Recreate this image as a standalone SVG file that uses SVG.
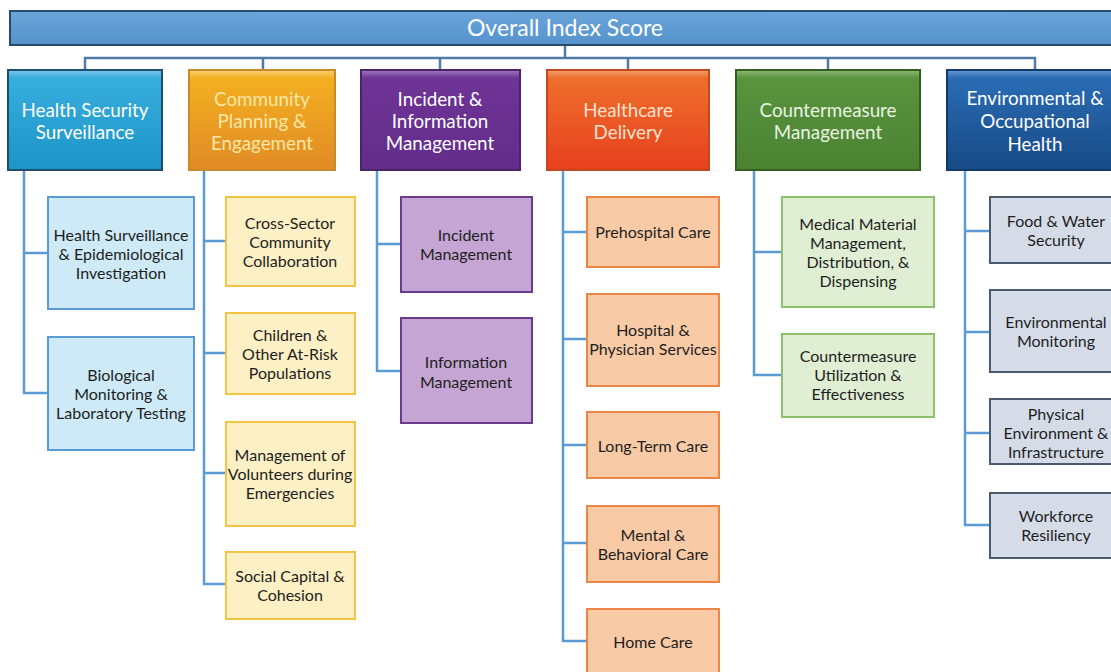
<svg xmlns="http://www.w3.org/2000/svg" width="1111" height="672" viewBox="0 0 1111 672">
<defs>
<linearGradient id="gBar" x1="0" y1="0" x2="0" y2="1"><stop offset="0" stop-color="#6aa6da"/><stop offset="1" stop-color="#5592cc"/></linearGradient>
<linearGradient id="g1" x1="0" y1="0" x2="0" y2="1"><stop offset="0" stop-color="#7cc6ea"/><stop offset="0.08" stop-color="#38aede"/><stop offset="1" stop-color="#1b94c6"/></linearGradient>
<linearGradient id="g2" x1="0" y1="0" x2="0" y2="1"><stop offset="0" stop-color="#f8d27a"/><stop offset="0.08" stop-color="#f3b020"/><stop offset="1" stop-color="#e08a26"/></linearGradient>
<linearGradient id="g3" x1="0" y1="0" x2="0" y2="1"><stop offset="0" stop-color="#a07cc0"/><stop offset="0.08" stop-color="#6e3496"/><stop offset="1" stop-color="#632c8a"/></linearGradient>
<linearGradient id="g4" x1="0" y1="0" x2="0" y2="1"><stop offset="0" stop-color="#f5a070"/><stop offset="0.08" stop-color="#ee6e2c"/><stop offset="1" stop-color="#e8401f"/></linearGradient>
<linearGradient id="g5" x1="0" y1="0" x2="0" y2="1"><stop offset="0" stop-color="#90b878"/><stop offset="0.08" stop-color="#5a943e"/><stop offset="1" stop-color="#4a8232"/></linearGradient>
<linearGradient id="g6" x1="0" y1="0" x2="0" y2="1"><stop offset="0" stop-color="#6a9ad0"/><stop offset="0.08" stop-color="#2a6cb4"/><stop offset="1" stop-color="#174a86"/></linearGradient>
</defs>
<style>
text{font-family:Lato,"Liberation Sans",sans-serif;text-anchor:middle;dominant-baseline:central}
.top{fill:#ffffff;font-size:23px}
.h{font-size:18.8px;fill:#ffffff}
.s{font-size:16px;fill:#1e1e1e}
.c1{fill:none;stroke:#4f7aa6;stroke-width:2.5}
.c2{fill:none;stroke:#5b9bd5;stroke-width:2.5}
.hb{stroke-width:2}
.s1{fill:#cdeaf6;stroke:#5b9bd5;stroke-width:2}
.s2{fill:#fdf0c4;stroke:#f5c443;stroke-width:2}
.s3{fill:#c5a5d3;stroke:#6b3a8c;stroke-width:2}
.s4{fill:#f8caa6;stroke:#ec8548;stroke-width:2}
.s5{fill:#e0eed4;stroke:#8cc06a;stroke-width:2}
.s6{fill:#d5dce8;stroke:#4a5a70;stroke-width:2}
</style>
<g id="connectors">
<path class="c1" d="M565 45V58M85 70V58H1035V70M263 58V70M440 58V70M628 58V70M828 58V70"/>
<path class="c2" d="M24 170V393H48M24 253H48"/>
<path class="c2" d="M204 170V584H226M204 241H226M204 353H226M204 473H226"/>
<path class="c2" d="M377 170V371H401M377 244H401"/>
<path class="c2" d="M563 170V641H587M563 232H587M563 339H587M563 445H587M563 543H587"/>
<path class="c2" d="M754 170V375H782M754 252H782"/>
<path class="c2" d="M965 170V525H990M965 231H990M965 332H990M965 433H990"/>
</g>
<g id="overall">
<rect x="10" y="11" width="1110" height="34" fill="url(#gBar)" stroke="#2b4a68" stroke-width="2"/>
<text class="top" x="565" y="27">Overall Index Score</text>
</g>
<g id="hss">
<rect class="hb" x="8" y="70" width="154" height="100" fill="url(#g1)" stroke="#1d4f6e"/>
<text class="h" x="85" y="109">Health Security</text>
<text class="h" x="85" y="131">Surveillance</text>
</g>
<g id="cpe">
<rect class="hb" x="189" y="70" width="146" height="100" fill="url(#g2)" stroke="#c98a2a"/>
<text class="h" x="262" y="98" style="fill:#fde7a6">Community</text>
<text class="h" x="262" y="120" style="fill:#fde7a6">Planning &amp;</text>
<text class="h" x="262" y="142" style="fill:#fde7a6">Engagement</text>
</g>
<g id="iim">
<rect class="hb" x="361" y="70" width="159" height="100" fill="url(#g3)" stroke="#4a2466"/>
<text class="h" x="440" y="98">Incident &amp;</text>
<text class="h" x="440" y="120">Information</text>
<text class="h" x="440" y="142">Management</text>
</g>
<g id="hd">
<rect class="hb" x="547" y="70" width="162" height="100" fill="url(#g4)" stroke="#c04a20"/>
<text class="h" x="628" y="109" style="fill:#fde2cc">Healthcare</text>
<text class="h" x="628" y="131" style="fill:#fde2cc">Delivery</text>
</g>
<g id="cm">
<rect class="hb" x="736" y="70" width="184" height="100" fill="url(#g5)" stroke="#335e22"/>
<text class="h" x="828" y="109" style="fill:#eaf3e2">Countermeasure</text>
<text class="h" x="828" y="131" style="fill:#eaf3e2">Management</text>
</g>
<g id="eoh">
<rect class="hb" x="947" y="70" width="176" height="100" fill="url(#g6)" stroke="#123a66"/>
<text class="h" x="1035" y="97">Environmental &amp;</text>
<text class="h" x="1035" y="120">Occupational</text>
<text class="h" x="1035" y="143">Health</text>
</g>
<g id="hss1"><rect class="s1" x="48" y="197" width="146" height="112"/>
<text class="s" x="121" y="234">Health Surveillance</text><text class="s" x="121" y="253">&amp; Epidemiological</text><text class="s" x="121" y="272">Investigation</text></g>
<g id="hss2"><rect class="s1" x="48" y="337" width="146" height="113"/>
<text class="s" x="121" y="374">Biological</text><text class="s" x="121" y="393">Monitoring &amp;</text><text class="s" x="121" y="412">Laboratory Testing</text></g>
<g id="cpe1"><rect class="s2" x="226" y="197" width="129" height="89"/>
<text class="s" x="290" y="222">Cross-Sector</text><text class="s" x="290" y="241">Community</text><text class="s" x="290" y="260">Collaboration</text></g>
<g id="cpe2"><rect class="s2" x="226" y="313" width="129" height="81"/>
<text class="s" x="290" y="334">Children &amp;</text><text class="s" x="290" y="353">Other At-Risk</text><text class="s" x="290" y="372">Populations</text></g>
<g id="cpe3"><rect class="s2" x="226" y="422" width="129" height="104"/>
<text class="s" x="290" y="454">Management of</text><text class="s" x="290" y="473">Volunteers during</text><text class="s" x="290" y="492">Emergencies</text></g>
<g id="cpe4"><rect class="s2" x="226" y="552" width="129" height="67"/>
<text class="s" x="290" y="575">Social Capital &amp;</text><text class="s" x="290" y="594">Cohesion</text></g>
<g id="iim1"><rect class="s3" x="401" y="197" width="131" height="95"/>
<text class="s" x="466" y="234">Incident</text><text class="s" x="466" y="253">Management</text></g>
<g id="iim2"><rect class="s3" x="401" y="318" width="131" height="105"/>
<text class="s" x="466" y="361">Information</text><text class="s" x="466" y="381">Management</text></g>
<g id="hd1"><rect class="s4" x="587" y="197" width="132" height="70"/>
<text class="s" x="653" y="231">Prehospital Care</text></g>
<g id="hd2"><rect class="s4" x="587" y="294" width="132" height="92"/>
<text class="s" x="653" y="329">Hospital &amp;</text><text class="s" x="653" y="348">Physician Services</text></g>
<g id="hd3"><rect class="s4" x="587" y="412" width="132" height="66"/>
<text class="s" x="653" y="445">Long-Term Care</text></g>
<g id="hd4"><rect class="s4" x="587" y="506" width="132" height="76"/>
<text class="s" x="653" y="534">Mental &amp;</text><text class="s" x="653" y="553">Behavioral Care</text></g>
<g id="hd5"><rect class="s4" x="587" y="609" width="132" height="70"/>
<text class="s" x="653" y="641">Home Care</text></g>
<g id="cm1"><rect class="s5" x="782" y="197" width="152" height="110"/>
<text class="s" x="858" y="223">Medical Material</text><text class="s" x="858" y="242">Management,</text><text class="s" x="858" y="261">Distribution, &amp;</text><text class="s" x="858" y="280">Dispensing</text></g>
<g id="cm2"><rect class="s5" x="782" y="334" width="152" height="83"/>
<text class="s" x="858" y="355">Countermeasure</text><text class="s" x="858" y="374">Utilization &amp;</text><text class="s" x="858" y="393">Effectiveness</text></g>
<g id="eoh1"><rect class="s6" x="990" y="197" width="132" height="66"/>
<text class="s" x="1056" y="220">Food &amp; Water</text><text class="s" x="1056" y="239">Security</text></g>
<g id="eoh2"><rect class="s6" x="990" y="290" width="132" height="82"/>
<text class="s" x="1056" y="321">Environmental</text><text class="s" x="1056" y="340">Monitoring</text></g>
<g id="eoh3"><rect class="s6" x="990" y="399" width="132" height="65"/>
<text class="s" x="1056" y="413">Physical</text><text class="s" x="1056" y="432">Environment &amp;</text><text class="s" x="1056" y="451">Infrastructure</text></g>
<g id="eoh4"><rect class="s6" x="990" y="493" width="132" height="65"/>
<text class="s" x="1056" y="515">Workforce</text><text class="s" x="1056" y="534">Resiliency</text></g>
</svg>
